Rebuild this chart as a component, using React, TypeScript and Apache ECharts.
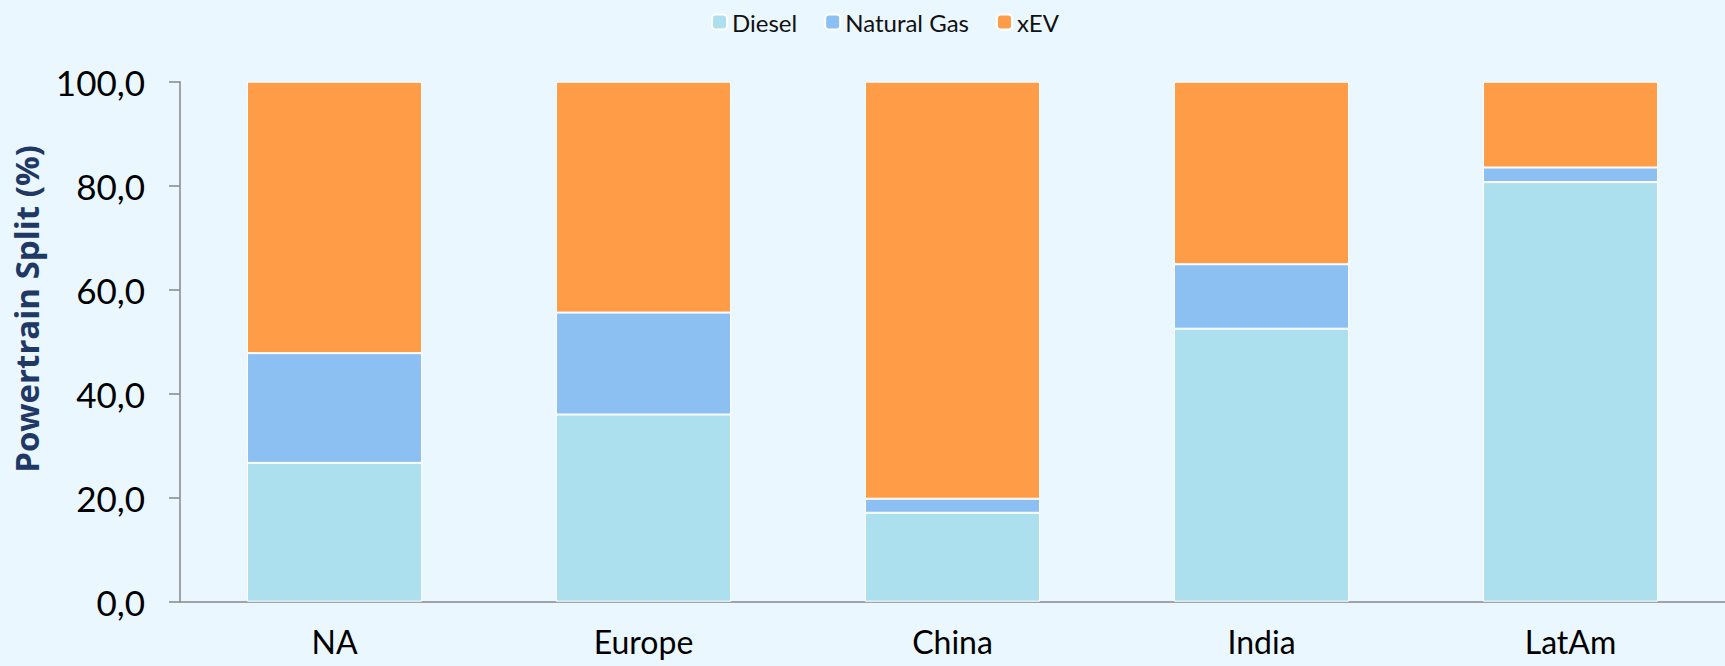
import React, { useEffect, useRef } from "react";
import * as echarts from "echarts";

const categories = ["NA", "Europe", "China", "India", "LatAm"];
const diesel = [26.7, 36.0, 17.1, 52.5, 80.7];
const naturalGas = [21.1, 19.6, 2.7, 12.4, 2.8];
const xev = [52.2, 44.4, 80.2, 35.1, 16.5];
const yTicks = { min: 0, max: 100, interval: 20 };

export default function App() {
  const ref = useRef<HTMLDivElement>(null);
  useEffect(() => {
    if (!ref.current) return;
    const chart = echarts.init(ref.current, null, { renderer: "svg" });
    const barStyle = (color: string) => ({ color, borderColor: "#ffffff", borderWidth: 1 });
    chart.setOption({
      animation: false,
      backgroundColor: "#EAF7FE",
      textStyle: { fontFamily: "Lato" },
      legend: {
        top: 5,
        left: 706,
        itemWidth: 15,
        itemHeight: 15,
        itemGap: 27,
        textStyle: { fontSize: 24, color: "#111", fontFamily: "Lato" },
        data: ["Diesel", "Natural Gas", "xEV"],
      },
      grid: { left: 180, right: 0, top: 81.7, bottom: 64.3, containLabel: false },
      xAxis: {
        type: "category",
        data: categories,
        axisLine: { lineStyle: { color: "#898989", width: 1.5 } },
        axisTick: { show: false },
        axisLabel: { fontSize: 32, color: "#000", margin: 24, fontFamily: "Lato" },
      },
      yAxis: {
        type: "value",
        min: yTicks.min,
        max: yTicks.max,
        interval: yTicks.interval,
        axisLine: { show: true, lineStyle: { color: "#898989", width: 1.5 } },
        axisTick: { show: true, length: 11, lineStyle: { color: "#898989", width: 1.5 } },
        splitLine: { show: false },
        axisLabel: {
          fontSize: 35,
          color: "#000",
          margin: 35,
          fontFamily: "Lato",
          formatter: (v: number) => v.toFixed(1).replace(".", ","),
        },
      },
      graphic: [
        {
          type: "text",
          x: 26,
          y: 309,
          rotation: Math.PI / 2,
          style: {
            text: "Powertrain Split (%)",
            fontSize: 33,
            fontWeight: "bold",
            fontFamily: "Open Sans",
            fill: "#1F3864",
            align: "center",
            verticalAlign: "middle",
          },
        },
      ],
      series: [
        { name: "Diesel", type: "bar", stack: "s", barWidth: 175, data: diesel, itemStyle: barStyle("#ADE0EE") },
        { name: "Natural Gas", type: "bar", stack: "s", barWidth: 175, data: naturalGas, itemStyle: barStyle("#8CC0F2") },
        { name: "xEV", type: "bar", stack: "s", barWidth: 175, data: xev, itemStyle: barStyle("#FF9C47") },
      ],
    });
    return () => chart.dispose();
  }, []);
  return <div ref={ref} style={{ width: 1725, height: 666, position: "absolute", left: 0, top: 0 }} />;
}
